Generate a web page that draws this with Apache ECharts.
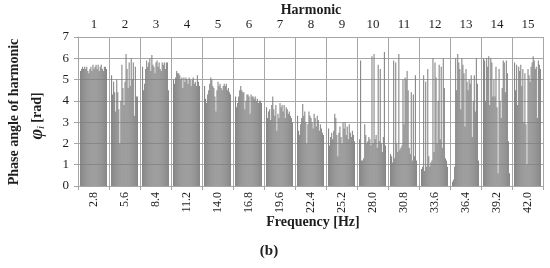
<!DOCTYPE html>
<html>
<head>
<meta charset="utf-8">
<script src="https://cdn.jsdelivr.net/npm/echarts@6/dist/echarts.min.js"></script>
<style>
  html, body { margin: 0; padding: 0; background: #fff; }
  #chart { width: 550px; height: 268px; }
</style>
</head>
<body>
<div id="chart"></div>
<script>
// harmonic numbers (top axis) and centre frequencies (bottom axis)
const harmonics = ['1','2','3','4','5','6','7','8','9','10','11','12','13','14','15'];
const freqLabels = ['2.8','5.6','8.4','11.2','14.0','16.8','19.6','22.4','25.2','28.0','30.8','33.6','36.4','39.2','42.0'];

// phase angle per bin inside each harmonic band [rad]
const phaseH1 = [5.4,5.5,5.6,5.5,5.6,5.5,5.6,5.4,5.3,5.5,5.6,5.4,5.7,5.5,5.6,5.7,5.5,5.7,5.4,5.6,5.7,5.5,5.4,5.6,5.6,5.5];
const phaseH2 = [5.2,4.3,4.9,4.4,3.5,5.0,4.4,3.6,2.0,4.0,5.7,4.6,3.8,4.9,6.2,5.5,4.6,5.8,4.7,6.0,5.0,5.8,3.3,5.6,4.2,4.2];
const phaseH3 = [5.6,4.5,4.8,5.5,5.9,5.6,5.8,6.0,5.4,6.15,5.7,5.6,5.3,5.8,5.9,5.6,5.8,5.5,5.4,5.8,5.7,5.8,5.5,5.8,5.8,4.5];
const phaseH4 = [5.0,4.8,5.1,5.4,5.3,5.3,5.2,5.0,5.1,4.6,5.1,4.9,5.1,5.0,4.8,5.1,5.0,4.7,5.0,5.1,4.8,4.9,4.7,5.2,4.9,4.7];
const phaseH5 = [4.7,4.1,3.9,4.3,4.5,4.8,5.1,5.0,4.7,4.6,4.2,3.5,4.5,4.9,4.7,4.8,4.6,4.5,4.7,4.8,4.7,4.8,4.5,4.6,4.4,4.3];
const phaseH6 = [4.2,3.7,3.9,4.2,4.5,4.7,4.5,4.4,4.4,3.6,4.0,4.3,4.3,4.2,3.4,4.3,4.2,4.2,4.1,4.2,4.0,4.1,3.9,4.0,4.0,3.9];
const phaseH7 = [3.7,3.2,3.5,3.6,3.1,3.8,4.2,3.6,3.3,3.8,2.6,3.4,3.2,3.9,3.7,3.8,3.5,3.8,3.2,3.7,3.6,3.4,3.5,3.3,3.2,3.0];
const phaseH8 = [3.3,2.6,2.4,2.9,3.2,3.85,3.3,3.5,3.0,2.0,2.9,3.5,3.3,3.2,3.0,2.7,3.4,3.2,2.8,3.3,3.1,2.6,2.9,2.7,2.5,2.4];
const phaseH9 = [2.7,1.9,2.3,2.5,2.2,2.6,3.4,3.2,2.4,1.4,2.5,2.8,2.3,2.0,3.0,2.7,3.0,2.4,2.8,2.2,2.9,2.5,2.3,2.6,2.4,2.1];
const phaseH10 = [2.2,5.9,1.2,1.2,1.3,2.9,2.4,2.0,2.1,2.3,2.2,1.9,6.1,2.0,6.2,2.2,2.4,1.8,5.7,2.1,5.5,2.0,1.6,2.3,6.3,1.9];
const phaseH11 = [1.5,1.4,1.1,5.9,1.3,5.8,2.0,1.6,6.2,1.7,1.8,1.9,5.0,2.9,5.1,5.0,5.4,4.5,1.8,1.5,4.4,1.2,4.3,1.4,5.2,1.2];
const phaseH12 = [0.8,0.9,5.2,0.7,4.9,0.9,5.5,1.4,0.9,1.1,1.2,6.0,1.6,5.8,5.1,2.0,4.0,5.7,2.2,5.6,1.8,6.0,4.6,1.3,1.2,0.9];
const phaseH13 = [0.2,0.3,0.9,6.0,4.5,6.2,5.8,5.5,3.6,6.0,5.7,5.3,2.8,5.5,4.9,4.5,5.0,4.8,5.2,2.3,4.0,5.2,3.5,6.0,4.8,1.2];
const phaseH14 = [6.0,5.9,4.0,6.0,5.6,6.1,3.8,6.0,5.8,4.2,5.0,4.2,5.6,3.7,0.6,5.5,4.0,3.2,4.6,5.9,5.8,4.4,5.9,5.3,2.1,0.6];
const phaseH15 = [5.8,4.5,5.7,3.8,5.6,5.4,5.7,4.7,5.5,3.0,5.3,2.9,1.0,5.5,5.2,4.9,5.6,5.8,6.1,5.9,5.5,5.6,3.2,5.9,5.7,5.5];

const bands = [phaseH1,phaseH2,phaseH3,phaseH4,phaseH5,phaseH6,phaseH7,phaseH8,
               phaseH9,phaseH10,phaseH11,phaseH12,phaseH13,phaseH14,phaseH15];

// each harmonic gets SLOTS categories: PAD empty ones on each side
const SLOTS = 30, PAD = 2, MID = 15;
const cats = [], vals = [];
bands.forEach((b, g) => {
    for (let s = 0; s < SLOTS; s++) {
        cats.push(String(g * SLOTS + s));
        const k = s - PAD;
        vals.push(k >= 0 && k < b.length ? b[k] : '-');
    }
});

const serif = '"Liberation Serif", "DejaVu Serif", serif';
const gridColor = '#a6a6a6';
const ink = '#1e1e1e';

const myChart = echarts.init(document.getElementById('chart'));
myChart.setOption({
    animation: false,
    textStyle: { fontFamily: serif },
    grid: { left: 78, right: 7, top: 37, bottom: 82, containLabel: false },
    xAxis: [
        {
            type: 'category',
            data: cats,
            position: 'bottom',
            axisLine: { lineStyle: { color: gridColor } },
            axisTick: {
                show: true,
                length: 4,
                interval: (i) => i % SLOTS === 0,
                lineStyle: { color: gridColor }
            },
            axisLabel: {
                interval: (i) => i % SLOTS === MID,
                formatter: (v) => freqLabels[Math.floor(Number(v) / SLOTS)],
                rotate: 90,
                margin: 6,
                fontSize: 12,
                fontFamily: serif,
                color: ink
            },
            splitLine: {
                show: true,
                interval: (i) => i % SLOTS === 0,
                lineStyle: { color: gridColor }
            }
        },
        {
            type: 'category',
            data: cats,
            position: 'top',
            axisLine: { show: false },
            axisTick: { show: false },
            axisLabel: {
                interval: (i) => i % SLOTS === MID,
                formatter: (v) => harmonics[Math.floor(Number(v) / SLOTS)],
                margin: 6,
                fontSize: 13,
                fontFamily: serif,
                color: ink
            },
            splitLine: { show: false }
        }
    ],
    yAxis: {
        type: 'value',
        min: 0,
        max: 7,
        interval: 1,
        axisLine: { show: true, lineStyle: { color: gridColor } },
        axisTick: { show: true, length: 4, lineStyle: { color: gridColor } },
        axisLabel: { margin: 9, fontSize: 13, fontFamily: serif, color: ink },
        splitLine: { lineStyle: { color: gridColor } }
    },
    series: [{
        type: 'bar',
        xAxisIndex: 0,
        data: vals,
        barCategoryGap: '0%',
        itemStyle: { color: '#7f7f7f' },
        silent: true
    }],
    graphic: [
        {
            type: 'text', x: 311, y: 10,
            style: { text: 'Harmonic', font: 'bold 14px ' + serif, fill: ink, textAlign: 'center', textVerticalAlign: 'middle' }
        },
        {
            type: 'text', x: 313, y: 222,
            style: { text: 'Frequency [Hz]', font: 'bold 14px ' + serif, fill: ink, textAlign: 'center', textVerticalAlign: 'middle' }
        },
        {
            type: 'text', x: 269, y: 251,
            style: { text: '(b)', font: 'bold 15px ' + serif, fill: ink, textAlign: 'center', textVerticalAlign: 'middle' }
        },
        {
            type: 'text', x: 14, y: 112, rotation: Math.PI / 2,
            style: { text: 'Phase angle of harmonic', font: 'bold 14px ' + serif, fill: ink, textAlign: 'center', textVerticalAlign: 'middle' }
        },
        {
            type: 'text', x: 37, y: 116, rotation: Math.PI / 2,
            style: {
                text: '{p|φ}{s|i} {r|[rad]}',
                textAlign: 'center',
                textVerticalAlign: 'middle',
                rich: {
                    p: { font: 'italic bold 18px ' + serif, fill: ink },
                    s: { font: 'italic 11px ' + serif, fill: ink, padding: [8, 0, 0, 0] },
                    r: { font: 'bold 14px ' + serif, fill: ink }
                }
            }
        }
    ]
});
</script>
</body>
</html>
